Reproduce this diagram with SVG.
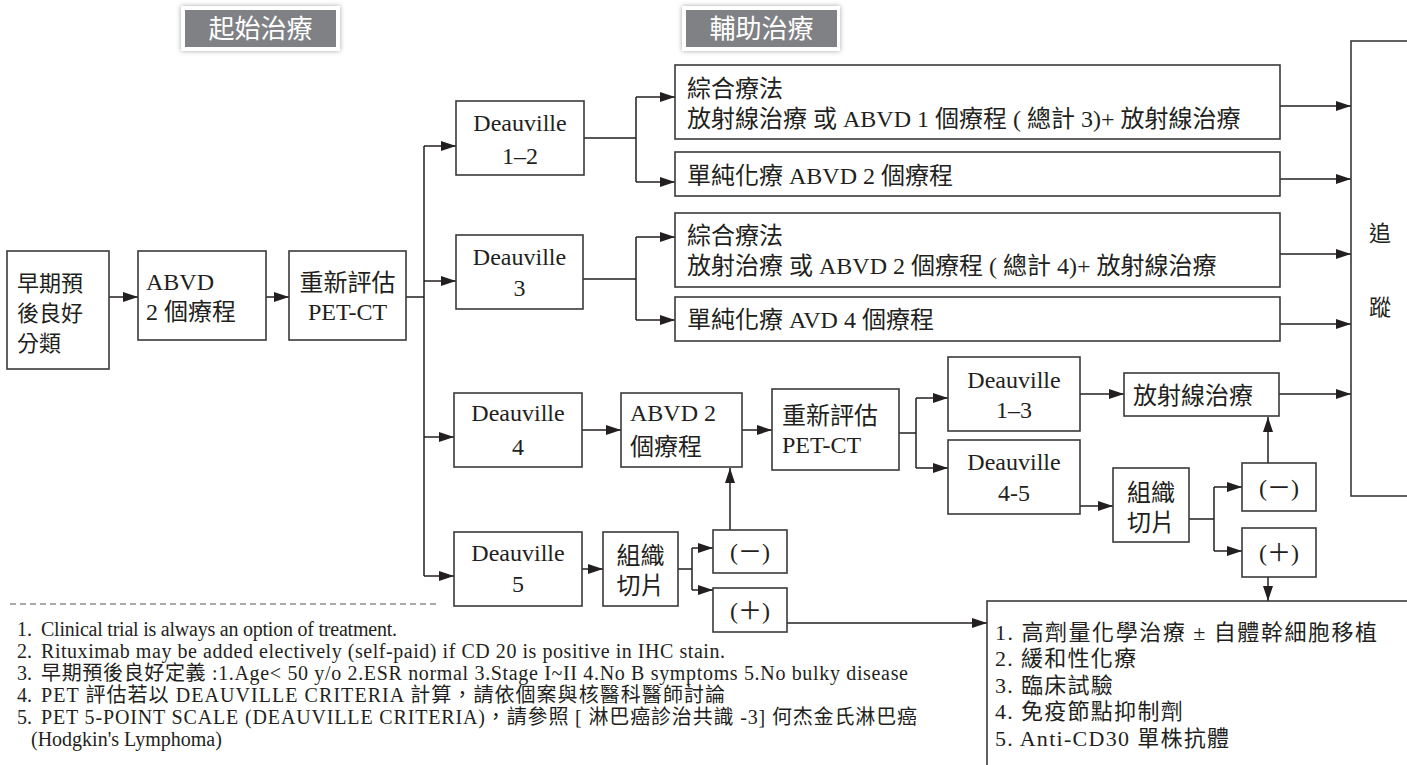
<svg xmlns="http://www.w3.org/2000/svg" width="1407" height="765" viewBox="0 0 1407 765">
<defs>
<marker id="ah" markerUnits="userSpaceOnUse" markerWidth="16" markerHeight="11" refX="15" refY="5" orient="auto">
<path d="M0,0 L15,5 L0,10 z" fill="#231f20"/>
</marker>
<filter id="sh" x="-20%" y="-40%" width="140%" height="180%">
<feDropShadow dx="0" dy="0" stdDeviation="2.5" flood-color="#000" flood-opacity="0.35"/>
</filter>
<style>
.box{fill:#fff;stroke:#3a3a3a;stroke-width:1.6}
.t{font-family:"Liberation Serif","Noto Sans CJK TC",serif;font-size:24px;fill:#231f20}
.tc{font-family:"Liberation Serif","Noto Sans CJK TC",serif;font-size:24px;fill:#231f20;text-anchor:middle}
.cj{font-family:"Liberation Serif","Noto Sans CJK TC",serif;font-size:22px;fill:#231f20}
.fn{font-family:"Liberation Serif","Noto Sans CJK TC",serif;font-size:20px;fill:#231f20}
.ls{font-family:"Liberation Serif","Noto Sans CJK TC",serif;font-size:22px;letter-spacing:1.3px;fill:#231f20}
.ls0{font-family:"Liberation Serif","Noto Sans CJK TC",serif;font-size:22px;fill:#231f20}
.hd{font-family:"Noto Sans CJK TC",sans-serif;font-size:26px;fill:#fff;text-anchor:middle}
.c{fill:none;stroke:#231f20;stroke-width:1.5}
.a{fill:none;stroke:#231f20;stroke-width:1.5;marker-end:url(#ah)}
</style>
</defs>
<rect width="1407" height="765" fill="#fff"/>

<g id="hdr1">
<rect x="181" y="6" width="159" height="45" fill="#fff" filter="url(#sh)"/>
<rect x="185" y="10" width="151" height="37" fill="#808185"/>
<text class="hd" x="260.5" y="38">起始治療</text>
</g>
<g id="hdr2">
<rect x="682" y="6" width="158" height="45" fill="#fff" filter="url(#sh)"/>
<rect x="686" y="10" width="151" height="37" fill="#808185"/>
<text class="hd" x="761.5" y="38">輔助治療</text>
</g>

<g id="connectors">
<path class="a" d="M109,297 H138"/>
<path class="a" d="M266,297 H289"/>
<path class="c" d="M406,297 H424 M424,146 V576"/>
<path class="a" d="M424,146 H456"/>
<path class="a" d="M424,281 H456"/>
<path class="a" d="M424,437 H454"/>
<path class="a" d="M424,576 H454"/>
<path class="c" d="M584,138 H636 M636,97 V182"/>
<path class="a" d="M636,97 H675"/>
<path class="a" d="M636,182 H675"/>
<path class="c" d="M583,279 H636 M636,237 V320"/>
<path class="a" d="M636,237 H675"/>
<path class="a" d="M636,320 H675"/>
<path class="a" d="M1280,106 H1351"/>
<path class="a" d="M1280,179 H1351"/>
<path class="a" d="M1280,254 H1351"/>
<path class="a" d="M1280,324 H1351"/>
<path class="a" d="M1279,394 H1351"/>
<path class="a" d="M582,430 H621"/>
<path class="a" d="M742,430 H772"/>
<path class="c" d="M899,433 H916 M916,398 V468"/>
<path class="a" d="M916,398 H948"/>
<path class="a" d="M916,468 H948"/>
<path class="a" d="M1080,394 H1124"/>
<path class="a" d="M1080,506 H1113"/>
<path class="c" d="M1189,519 H1214 M1214,487 V551"/>
<path class="a" d="M1214,487 H1242"/>
<path class="a" d="M1214,551 H1242"/>
<path class="a" d="M1268,463 V417"/>
<path class="a" d="M1268,577 V601"/>
<path class="a" d="M582,569 H603"/>
<path class="c" d="M678,569 H692 M692,548 V590"/>
<path class="a" d="M692,548 H713"/>
<path class="a" d="M692,590 H713"/>
<path class="a" d="M730,530 V468"/>
<path class="a" d="M787,623 H987"/>
</g>

<g id="n_early">
<rect class="box" x="7" y="251" width="102" height="118"/>
<text class="cj" x="17" y="291">早期預</text>
<text class="cj" x="17" y="321">後良好</text>
<text class="cj" x="17" y="351">分類</text>
</g>
<g id="n_abvd">
<rect class="box" x="138" y="251" width="128" height="89"/>
<text class="t" x="146" y="290">ABVD</text>
<text class="t" x="146" y="320">2 個療程</text>
</g>
<g id="n_pet1">
<rect class="box" x="289" y="251" width="117" height="89"/>
<text class="tc" x="347.5" y="291">重新評估</text>
<text class="tc" x="347.5" y="320">PET-CT</text>
</g>

<g id="n_d12">
<rect class="box" x="456" y="101" width="128" height="74"/>
<text class="tc" x="520" y="131">Deauville</text>
<text class="tc" x="520" y="164">1–2</text>
</g>
<g id="n_cmt1">
<rect class="box" x="675" y="65" width="605" height="74"/>
<text class="t" x="687" y="97">綜合療法</text>
<text class="t" x="687" y="127">放射線治療 或 ABVD 1 個療程 ( 總計 3)+ 放射線治療</text>
</g>
<g id="n_chemo1">
<rect class="box" x="675" y="152" width="605" height="44"/>
<text class="t" x="687" y="184">單純化療 ABVD 2 個療程</text>
</g>

<g id="n_d3">
<rect class="box" x="456" y="235" width="127" height="74"/>
<text class="tc" x="519.5" y="265">Deauville</text>
<text class="tc" x="519.5" y="296">3</text>
</g>
<g id="n_cmt2">
<rect class="box" x="675" y="213" width="605" height="74"/>
<text class="t" x="687" y="244">綜合療法</text>
<text class="t" x="687" y="274">放射治療 或 ABVD 2 個療程 ( 總計 4)+ 放射線治療</text>
</g>
<g id="n_chemo2">
<rect class="box" x="675" y="297" width="605" height="44"/>
<text class="t" x="687" y="328">單純化療 AVD 4 個療程</text>
</g>

<g id="n_follow">
<rect class="box" x="1351" y="41" width="70" height="455"/>
<text class="cj" x="1380" y="241" text-anchor="middle">追</text>
<text class="cj" x="1380" y="315" text-anchor="middle">蹤</text>
</g>

<g id="n_d4">
<rect class="box" x="454" y="393" width="128" height="74"/>
<text class="tc" x="518" y="421">Deauville</text>
<text class="tc" x="518" y="455">4</text>
</g>
<g id="n_abvd2">
<rect class="box" x="621" y="393" width="121" height="74"/>
<text class="t" x="630" y="421">ABVD 2</text>
<text class="t" x="630" y="455">個療程</text>
</g>
<g id="n_pet2">
<rect class="box" x="772" y="389" width="127" height="81"/>
<text class="t" x="782" y="424">重新評估</text>
<text class="t" x="782" y="453">PET-CT</text>
</g>
<g id="n_d13">
<rect class="box" x="948" y="357" width="132" height="74"/>
<text class="tc" x="1014" y="388">Deauville</text>
<text class="tc" x="1014" y="418">1–3</text>
</g>
<g id="n_d45">
<rect class="box" x="948" y="440" width="132" height="74"/>
<text class="tc" x="1014" y="470">Deauville</text>
<text class="tc" x="1014" y="501">4-5</text>
</g>
<g id="n_rt">
<rect class="box" x="1124" y="373" width="155" height="43"/>
<text class="t" x="1133" y="404">放射線治療</text>
</g>
<g id="n_bx2">
<rect class="box" x="1113" y="468" width="76" height="74"/>
<text class="tc" x="1151" y="501">組織</text>
<text class="tc" x="1151" y="531">切片</text>
</g>
<g id="n_neg2">
<rect class="box" x="1242" y="463" width="74" height="48"/>
<text class="tc" x="1279" y="496">(－)</text>
</g>
<g id="n_pos2">
<rect class="box" x="1242" y="528" width="74" height="49"/>
<text class="tc" x="1279" y="561">(＋)</text>
</g>

<g id="n_d5">
<rect class="box" x="454" y="532" width="128" height="74"/>
<text class="tc" x="518" y="561">Deauville</text>
<text class="tc" x="518" y="592">5</text>
</g>
<g id="n_bx1">
<rect class="box" x="603" y="532" width="75" height="74"/>
<text class="tc" x="640.5" y="564">組織</text>
<text class="tc" x="640.5" y="594">切片</text>
</g>
<g id="n_neg1">
<rect class="box" x="713" y="530" width="74" height="43"/>
<text class="tc" x="750" y="560">(－)</text>
</g>
<g id="n_pos1">
<rect class="box" x="713" y="588" width="74" height="44"/>
<text class="tc" x="750" y="619">(＋)</text>
</g>

<g id="n_salvage">
<rect class="box" x="987" y="601" width="440" height="180"/>
<text class="ls0" y="640"><tspan x="995" textLength="382">1. 高劑量化學治療 ± 自體幹細胞移植</tspan></text>
<text class="ls" x="995" y="666">2. 緩和性化療</text>
<text class="ls" x="995" y="693">3. 臨床試驗</text>
<text class="ls" x="995" y="719">4. 免疫節點抑制劑</text>
<text class="ls" x="995" y="746">5. Anti-CD30 單株抗體</text>
</g>

<g id="notes">
<line x1="10" y1="604" x2="440" y2="604" stroke="#555" stroke-width="1.2" stroke-dasharray="6,4"/>
<text class="fn" y="636"><tspan x="17">1.</tspan><tspan x="41" textLength="356">Clinical trial is always an option of treatment.</tspan></text>
<text class="fn" y="658"><tspan x="17">2.</tspan><tspan x="41" textLength="684">Rituximab may be added electively (self-paid) if CD 20 is positive in IHC stain.</tspan></text>
<text class="fn" y="680"><tspan x="17">3.</tspan><tspan x="41" textLength="867">早期預後良好定義 :1.Age&lt; 50 y/o 2.ESR normal 3.Stage I~II 4.No B symptoms 5.No bulky disease</tspan></text>
<text class="fn" y="702"><tspan x="17">4.</tspan><tspan x="41" textLength="684">PET 評估若以 DEAUVILLE CRITERIA 計算，請依個案與核醫科醫師討論</tspan></text>
<text class="fn" y="724"><tspan x="17">5.</tspan><tspan x="41" textLength="876">PET 5-POINT SCALE (DEAUVILLE CRITERIA)，請參照 [ 淋巴癌診治共識 -3] 何杰金氏淋巴癌</tspan></text>
<text class="fn" x="31" y="746">(Hodgkin's Lymphoma)</text>
</g>
</svg>
